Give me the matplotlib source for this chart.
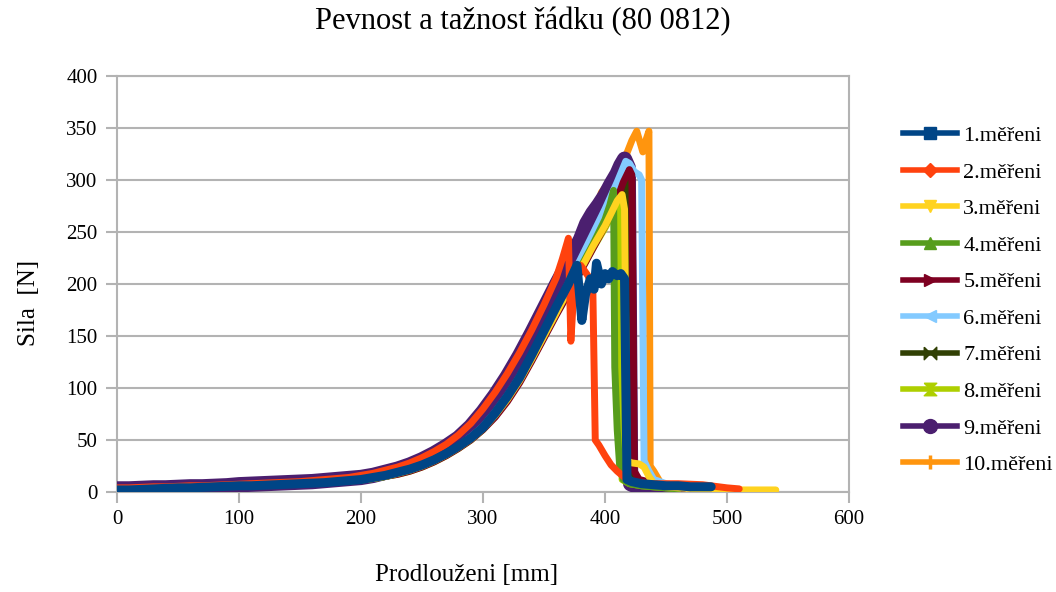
import matplotlib
matplotlib.use('Agg')
import matplotlib.pyplot as plt
from matplotlib.lines import Line2D

plt.rcParams['font.family'] = ['Liberation Serif', 'DejaVu Serif']

# elongation grid used for the common rising part of every curve [mm]
grid = [0, 10, 20, 30, 40, 50, 60, 70, 80, 90,
        100, 110, 120, 130, 140, 150, 160, 170, 180, 190,
        200, 210, 220, 230, 240, 250, 260, 270, 280, 290,
        300, 310, 320, 330, 340, 350, 360, 370]

labels = ['1.měřeni', '2.měřeni', '3.měřeni', '4.měřeni', '5.měřeni',
          '6.měřeni', '7.měřeni', '8.měřeni', '9.měřeni', '10.měřeni']

# force [N]
y1 = [2, 2, 2.5, 3, 3.5, 4, 4, 4.5, 5, 5.5, 6, 6, 6.5, 7, 7.5, 8, 8.5, 9, 10, 11,
      12, 14, 16, 19, 22, 26, 31, 37, 44, 52, 62, 76, 92, 110, 132, 155, 178, 200,
      218, 165, 190, 205, 195, 220, 200, 210, 205, 212, 208, 210, 205, 12, 10, 8, 7, 6, 6, 5, 5, 5]
x1 = grid + [377, 381, 384, 388, 391, 393, 397, 400, 403, 406, 410, 413, 416, 418,
             422, 430, 440, 450, 460, 470, 480, 487]

y2 = [4, 4, 4.5, 5, 5, 5.5, 6, 6, 6.5, 7, 7.5, 8, 8.5, 9, 9.5, 10, 11, 12, 13, 14,
      16, 18, 21, 24, 28, 33, 39, 46, 55, 66, 80, 96, 114, 134, 156, 180, 206,
      224, 244, 145, 205, 218, 208, 196, 50, 45, 35, 26, 20, 13, 9, 8, 8, 7, 4, 3]
x2 = grid[:37] + [365, 370, 372, 375, 380, 386, 390, 392, 395, 400, 405, 410, 417,
                  425, 440, 460, 480, 500, 510]

y3 = [3, 3, 3, 3.5, 4, 4, 4.5, 5, 5, 5.5, 6, 6, 6.5, 7, 7.5, 8, 8.5, 9, 10, 11,
      12, 13, 15, 18, 21, 25, 30, 36, 43, 51, 61, 74, 89, 107, 128, 150, 172, 194,
      214, 236, 256, 268, 280, 286, 272, 30, 28, 27, 24, 15, 8, 5, 4, 3, 2, 2, 2]
x3 = grid + [380, 390, 400, 405, 410, 414, 416, 418, 422, 428, 432, 436, 440, 450,
             460, 480, 500, 520, 540]

y4 = [3, 3, 3, 3.5, 4, 4, 4.5, 5, 5, 5.5, 6, 6, 6.5, 7, 7.5, 8, 8.5, 9, 10, 11,
      12, 13, 15, 18, 21, 25, 30, 36, 43, 51, 61, 74, 90, 108, 129, 151, 173, 195,
      216, 238, 262, 276, 290, 120, 60, 25, 12, 8, 6, 5, 4, 3]
x4 = grid + [380, 390, 400, 404, 407, 408, 410, 412, 415, 420, 430, 440, 450, 460]

y5 = [3, 3, 3, 3.5, 4, 4, 4.5, 5, 5, 5.5, 6, 6, 6.5, 7, 7.5, 8, 8.5, 9, 10, 11,
      12, 13, 15, 17, 20, 24, 29, 35, 42, 50, 60, 72, 87, 105, 126, 148, 170, 191,
      212, 234, 256, 282, 298, 310, 305, 20, 12, 10, 8, 6, 5, 4]
x5 = grid + [380, 390, 400, 410, 415, 420, 422, 424, 428, 435, 440, 450, 460, 470]

y6 = [3, 3, 3, 3.5, 4, 4, 4.5, 5, 5, 5.5, 6, 6, 6.5, 7, 7.5, 8, 8.5, 9, 10, 11,
      12, 14, 16, 19, 22, 26, 31, 37, 44, 53, 63, 77, 93, 111, 132, 155, 178, 201,
      224, 248, 272, 298, 318, 316, 308, 305, 300, 30, 20, 12, 8, 6, 5]
x6 = grid + [380, 390, 400, 410, 417, 420, 424, 428, 430, 432, 436, 440, 450, 460, 470]

y7 = [3, 3, 3, 3.5, 4, 4, 4.5, 5, 5, 5.5, 6, 6, 6.5, 7, 7.5, 8, 8.5, 9, 10, 11,
      12, 13, 15, 18, 21, 25, 30, 36, 43, 51, 61, 74, 89, 107, 128, 150, 172, 194,
      216, 238, 260, 283, 300, 15, 10, 8, 6, 5, 4]
x7 = grid + [380, 390, 400, 410, 418, 420, 424, 430, 440, 450, 460]

y8 = [3, 3, 3, 3.5, 4, 4, 4.5, 5, 5, 5.5, 6, 6, 6.5, 7, 7.5, 8, 8.5, 9, 10, 10.5,
      11.5, 13, 15, 17, 20, 24, 29, 35, 42, 50, 60, 73, 88, 106, 127, 149, 171, 192,
      213, 234, 254, 272, 276, 12, 8, 6, 5, 4, 3]
x8 = grid + [380, 390, 400, 408, 412, 414, 420, 430, 440, 450, 460]

y9 = [3, 3, 3.5, 4, 4, 4.5, 5, 5, 5.5, 6, 7, 7.5, 8, 8.5, 9, 9.5, 10, 11, 12, 13,
      14, 16, 19, 22, 26, 31, 37, 44, 52, 63, 77, 93, 111, 131, 153, 176, 199, 221,
      243, 258, 268, 276, 285, 296, 306, 314, 320, 312, 8, 6, 5, 4, 3, 2]
x9 = grid + [380, 385, 390, 395, 400, 405, 410, 413, 416, 419, 421, 425, 430, 440, 450, 460]

y10 = [4, 4, 4, 4.5, 5, 5, 5.5, 6, 6, 6.5, 7, 7, 7.5, 8, 8.5, 9, 9.5, 10, 11, 12,
       13, 15, 17, 20, 24, 28, 34, 40, 48, 58, 70, 85, 102, 121, 142, 165, 188, 212,
       236, 262, 288, 300, 314, 326, 338, 347, 327, 340, 347, 25, 20, 10, 6, 5, 4, 3]
x10 = grid + [380, 390, 397, 405, 412, 418, 422, 426, 431, 434, 436, 437, 440, 445,
              450, 460, 470, 480]

xs = [x1, x2, x3, x4, x5, x6, x7, x8, x9, x10]
ys = [y1, y2, y3, y4, y5, y6, y7, y8, y9, y10]

colors = ['#004586', '#ff420e', '#ffd320', '#579d1c', '#7e0021',
          '#83caff', '#314004', '#aecf00', '#4b1f6f', '#ff950e']

bowtie = [(-1, 1), (0, 0), (1, 1), (1, -1), (0, 0), (-1, -1), (-1, 1)]
hourglass = [(-1, 1), (1, 1), (0, 0), (1, -1), (-1, -1), (0, 0), (-1, 1)]
markers = ['s', 'D', 'v', '^', '>', '<', bowtie, hourglass, 'o', '+']
msizes = [8, 7, 9, 9, 9, 9, 9, 9, 10, 10]
# the dense measured points merge into bands of roughly this width
band = [6.5, 5, 5, 5, 5, 5, 5, 5, 11, 5]

fig = plt.figure(figsize=(10.56, 5.92), dpi=100)
ax = fig.add_axes([0.1108, 0.1689, 0.6932, 0.7027])

for i in range(10):
    ax.plot(xs[i], ys[i], color=colors[i], lw=band[i],
            solid_joinstyle='round', solid_capstyle='round', zorder=20 - i)

ax.set_xlim(0, 600)
ax.set_ylim(0, 400)
ax.set_xticks(range(0, 601, 100))
ax.set_yticks(range(0, 401, 50))
ax.yaxis.grid(True, color='#b3b3b3', lw=1.5)
ax.set_axisbelow(True)
for s in ax.spines.values():
    s.set_color('#b3b3b3')
    s.set_linewidth(1.5)
ax.tick_params(axis='both', colors='#b3b3b3', length=8, width=1.5,
               labelcolor='black', labelsize=15)
ax.tick_params(axis='x', pad=5)
ax.tick_params(axis='y', pad=6)

ax.set_xlabel('Prodlouženi [mm]', fontsize=18)
ax.set_ylabel('Sila  [N]', fontsize=18)
ax.xaxis.set_label_coords(0.477, -0.172)
ax.yaxis.set_label_coords(-0.105, 0.454)

fig.text(0.495, 0.963, 'Pevnost a tažnost řádku (80 0812)', ha='center', va='center',
         fontsize=22)

handles = [Line2D([], [], color=colors[i], lw=4, marker=markers[i], ms=msizes[i],
                  mew=2.5 if markers[i] == '+' else 1)
           for i in range(10)]
fig.legend(handles, labels, loc='upper left', bbox_to_anchor=(0.847, 0.803),
           frameon=False, fontsize=16, handlelength=2.4, handletextpad=0.3,
           labelspacing=0.72, borderaxespad=0)

fig.savefig('out.png', dpi=100)
